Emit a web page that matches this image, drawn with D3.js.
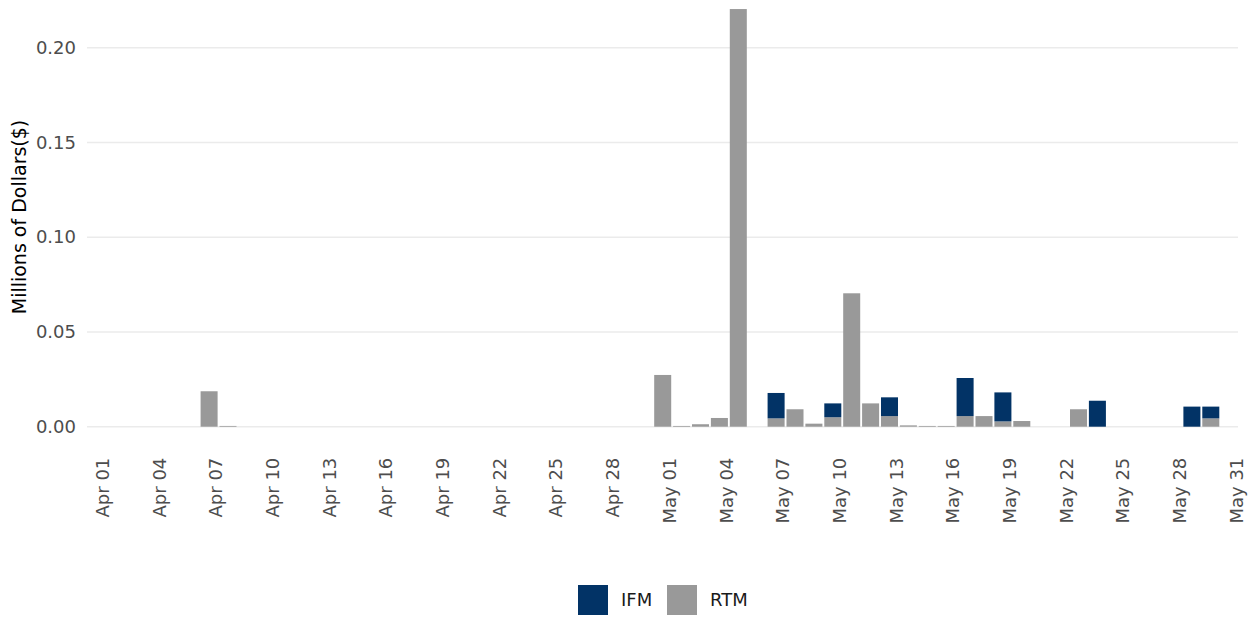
<!DOCTYPE html>
<html>
<head>
<meta charset="utf-8">
<script src="https://cdn.jsdelivr.net/npm/d3@7"></script>
<style>
  html, body { margin: 0; padding: 0; background: #ffffff; }
  svg { display: block; font-family: "DejaVu Sans", sans-serif; }
</style>
</head>
<body>
<svg id="chart" width="1254" height="620"></svg>
<script>
// ---- data ----
const dates = ["2024-04-07","2024-04-08","2024-05-01","2024-05-02","2024-05-03","2024-05-04","2024-05-05",
  "2024-05-07","2024-05-08","2024-05-09","2024-05-10","2024-05-11","2024-05-12","2024-05-13","2024-05-14",
  "2024-05-15","2024-05-16","2024-05-17","2024-05-18","2024-05-19","2024-05-20","2024-05-23","2024-05-24",
  "2024-05-29","2024-05-30"];
const rtm = [0.0187,0.0004,0.0273,0.0004,0.0013,0.0046,0.2204,
  0.0044,0.0092,0.0016,0.0050,0.0704,0.0123,0.0056,0.0007,
  0.0004,0.0004,0.0056,0.0056,0.0028,0.0030,0.0092,0,
  0,0.0044];
const ifm = [0,0,0,0,0,0,0,
  0.0134,0,0,0.0073,0,0,0.0099,0,
  0,0,0.0201,0,0.0153,0,0,0.0137,
  0.0106,0.0062];
const seriesNames = ["IFM", "RTM"];
const seriesColors = ["#023366", "#999999"];
const yTicks = [0, 0.05, 0.10, 0.15, 0.20];
const xTickLabels = ["2024-04-01","2024-04-04","2024-04-07","2024-04-10","2024-04-13","2024-04-16","2024-04-19",
  "2024-04-22","2024-04-25","2024-04-28","2024-05-01","2024-05-04","2024-05-07","2024-05-10","2024-05-13",
  "2024-05-16","2024-05-19","2024-05-22","2024-05-25","2024-05-28","2024-05-31"];
const yTitle = "Millions of Dollars($)";

// ---- layout ----
const svg = d3.select("#chart");
const panelLeft = 87, panelRight = 1238;
const parse = d3.utcParse("%Y-%m-%d");
const x = d3.scaleUtc()
  .domain([parse("2024-04-01"), parse("2024-05-31")])
  .range([102, 1236]);
const y = d3.scaleLinear().domain([0, 0.2]).range([426.7, 47.7]);

const dayMs = 864e5;
const offsetMs = 8 * 3600e3; // bars drawn at local-midnight shifted by timezone
const barW = x(new Date(parse("2024-04-01").getTime() + 0.9 * dayMs)) - x(parse("2024-04-01"));

// gridlines
svg.append("g").selectAll("line").data(yTicks).join("line")
  .attr("x1", panelLeft).attr("x2", panelRight)
  .attr("y1", d => y(d)).attr("y2", d => y(d))
  .attr("stroke", "#ebebeb").attr("stroke-width", 1.6);

// stacked bars
const rows = dates.map((d, i) => ({ date: parse(d), RTM: rtm[i], IFM: ifm[i] }));
const stack = d3.stack().keys(["RTM", "IFM"])(rows);
const color = d3.scaleOrdinal().domain(seriesNames).range(seriesColors);

svg.append("g").selectAll("g").data(stack).join("g")
  .attr("fill", s => color(s.key))
  .selectAll("rect").data(s => s.filter(p => p[1] - p[0] > 0)).join("rect")
  .attr("x", p => x(new Date(p.data.date.getTime() - offsetMs)) - barW / 2)
  .attr("width", barW)
  .attr("y", p => y(p[1]))
  .attr("height", p => y(p[0]) - y(p[1]));

// y axis
const yAxis = svg.append("g").attr("transform", `translate(${panelLeft - 11},0)`)
  .call(d3.axisLeft(y).tickValues(yTicks).tickFormat(d3.format(".2f")).tickSize(0).tickPadding(0));
yAxis.select(".domain").remove();
yAxis.selectAll("text").attr("font-size", 18).attr("fill", "#4d4d4d")
  .attr("font-family", "DejaVu Sans, sans-serif");

// x axis
const xAxis = svg.append("g").attr("transform", `translate(0,${y(0)})`)
  .call(d3.axisBottom(x).tickValues(xTickLabels.map(parse)).tickFormat(d3.utcFormat("%b %d")).tickSize(0));
xAxis.select(".domain").remove();
xAxis.selectAll("text")
  .attr("font-size", 18).attr("fill", "#4d4d4d")
  .attr("font-family", "DejaVu Sans, sans-serif")
  .attr("transform", "rotate(-90)")
  .attr("text-anchor", "end")
  .attr("x", -31).attr("y", 0).attr("dy", "0.35em");

// y title
svg.append("text")
  .attr("transform", `translate(26,217) rotate(-90)`)
  .attr("text-anchor", "middle")
  .attr("font-size", 19).attr("fill", "#000")
  .text(yTitle);

// legend
const legend = svg.append("g");
const legendX = [578, 667];
seriesNames.forEach((name, i) => {
  legend.append("rect").attr("x", legendX[i]).attr("y", 585).attr("width", 30).attr("height", 30)
    .attr("fill", color(name));
  legend.append("text").attr("x", legendX[i] + 43).attr("y", 600).attr("dy", "0.35em")
    .attr("font-size", 18).attr("fill", "#1a1a1a").text(name);
});
</script>
</body>
</html>
